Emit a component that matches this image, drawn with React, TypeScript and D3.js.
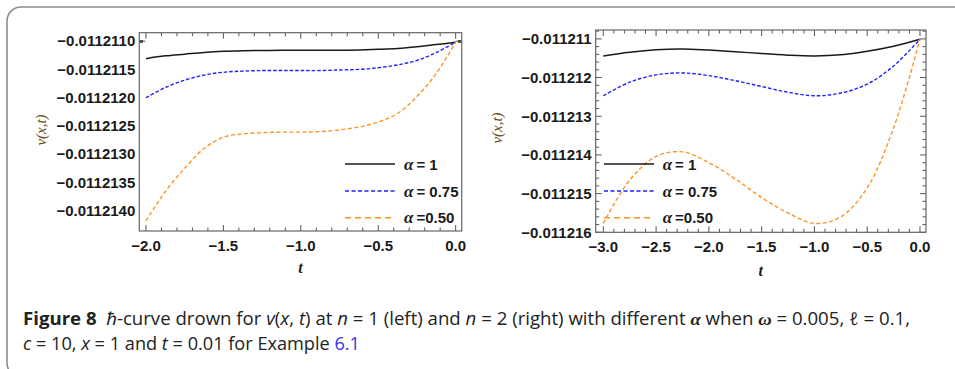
import React from "react";
import * as d3 from "d3";

// n = 1 panel: sample times and curve values
const tLeft = [-2, -1.875, -1.75, -1.625, -1.5, -1.375, -1.25, -1.125, -1, -0.875, -0.75, -0.625, -0.5, -0.375, -0.25, -0.125, 0];
const leftAlpha1 = [-0.01121131, -0.01121126, -0.01121123, -0.0112112, -0.01121118, -0.01121117, -0.011211165, -0.01121116, -0.01121116, -0.01121116, -0.01121116, -0.011211155, -0.011211145, -0.01121113, -0.0112111, -0.01121106, -0.01121102];
const leftAlpha075 = [-0.011212, -0.01121182, -0.01121169, -0.0112116, -0.01121155, -0.01121153, -0.01121152, -0.01121152, -0.01121152, -0.01121152, -0.01121151, -0.0112115, -0.01121147, -0.01121142, -0.01121134, -0.0112112, -0.01121102];
const leftAlpha050 = [-0.01121418, -0.01121366, -0.01121325, -0.0112129, -0.0112127, -0.01121264, -0.01121262, -0.01121261, -0.01121261, -0.0112126, -0.01121257, -0.01121252, -0.01121243, -0.01121228, -0.01121198, -0.01121157, -0.01121102];

// n = 2 panel
const tRight = [-3, -2.75, -2.5, -2.25, -2, -1.75, -1.5, -1.25, -1, -0.75, -0.5, -0.25, 0];
const rightAlpha1 = [-0.01121144, -0.011211345, -0.01121128, -0.01121126, -0.01121129, -0.01121133, -0.01121138, -0.01121142, -0.01121144, -0.01121141, -0.01121132, -0.01121119, -0.01121101];
const rightAlpha075 = [-0.01121247, -0.01121212, -0.01121193, -0.01121188, -0.01121195, -0.01121208, -0.01121223, -0.01121238, -0.01121247, -0.0112124, -0.01121217, -0.0112117, -0.01121101];
const rightAlpha050 = [-0.01121577, -0.01121465, -0.01121404, -0.01121392, -0.0112142, -0.01121462, -0.0112151, -0.0112155, -0.01121577, -0.0112156, -0.01121485, -0.0112133, -0.01121101];

// axis ticks
const xTicksLeft = [-2, -1.5, -1, -0.5, 0];
const yTicksLeft = [-0.011211, -0.0112115, -0.011212, -0.0112125, -0.011213, -0.0112135, -0.011214];
const xTicksRight = [-3, -2.5, -2, -1.5, -1, -0.5, 0];
const yTicksRight = [-0.011211, -0.011212, -0.011213, -0.011214, -0.011215, -0.011216];

const legendLabels = ["= 1", "= 0.75", "=0.50"];

const SERIES_STYLE = [
  { color: "#1a1a1a", dash: null, width: 1.5, legendDash: null },
  { color: "#1f1fff", dash: "3.5,2", width: 1.4, legendDash: "4,2.5" },
  { color: "#ff9326", dash: "4,2.5", width: 1.4, legendDash: "6,4" },
];

const TICK_FONT = "'Liberation Sans', Arial, sans-serif";
const SERIF = "'Liberation Serif', 'DejaVu Serif', serif";

type PanelProps = {
  frame: { x0: number; x1: number; y0: number; y1: number };
  xDomain: [number, number];
  yDomain: [number, number];
  ts: number[];
  series: number[][];
  xTicks: number[];
  yTicks: number[];
  yFormat: (v: number) => string;
  xMinorStep: number;
  yMinorStep: number;
  yTitle: { x: number; y: number };
  tTitleY: number;
  legend: { x0: number; x1: number; ys: number[]; textX: number };
};

function Panel(p: PanelProps) {
  const { frame } = p;
  const x = d3.scaleLinear().domain(p.xDomain).range([frame.x0, frame.x1]);
  const y = d3.scaleLinear().domain(p.yDomain).range([frame.y1, frame.y0]);
  const line = d3
    .line<[number, number]>()
    .x((d) => x(d[0]))
    .y((d) => y(d[1]))
    .curve(d3.curveCatmullRom.alpha(0.5));

  const xMinor: number[] = [];
  for (let k = Math.ceil(p.xDomain[0] / p.xMinorStep - 1e-9); k <= Math.floor(p.xDomain[1] / p.xMinorStep + 1e-9); k++) {
    xMinor.push(k * p.xMinorStep);
  }
  const yMinor: number[] = [];
  const base = p.yTicks[0];
  for (let k = -5; k < 200; k++) {
    const v = base - k * p.yMinorStep;
    if (v <= p.yDomain[1] && v >= p.yDomain[0]) yMinor.push(v);
  }
  const isMajorX = (v: number) => p.xTicks.some((t) => Math.abs(t - v) < 1e-9);
  const isMajorY = (v: number) => p.yTicks.some((t) => Math.abs(t - v) < p.yMinorStep * 0.01);

  const tickColor = "#555";
  const ticks: JSX.Element[] = [];
  xMinor.forEach((v, i) => {
    const len = isMajorX(v) ? 6 : 3.5;
    const px = x(v);
    ticks.push(<line key={`xb${i}`} x1={px} x2={px} y1={frame.y1} y2={frame.y1 - len} stroke={tickColor} strokeWidth={1} />);
    ticks.push(<line key={`xt${i}`} x1={px} x2={px} y1={frame.y0} y2={frame.y0 + len} stroke={tickColor} strokeWidth={1} />);
  });
  yMinor.forEach((v, i) => {
    const len = isMajorY(v) ? 6 : 3.5;
    const py = y(v);
    ticks.push(<line key={`yl${i}`} x1={frame.x0} x2={frame.x0 + len} y1={py} y2={py} stroke={tickColor} strokeWidth={1} />);
    ticks.push(<line key={`yr${i}`} x1={frame.x1} x2={frame.x1 - len} y1={py} y2={py} stroke={tickColor} strokeWidth={1} />);
  });

  return (
    <g>
      <defs>
        <clipPath id={`clip${frame.x0}`}>
          <rect x={frame.x0} y={frame.y0} width={frame.x1 - frame.x0} height={frame.y1 - frame.y0} />
        </clipPath>
      </defs>
      <g clipPath={`url(#clip${frame.x0})`}>
        {p.series.map((vals, si) => (
          <path
            key={si}
            d={line(p.ts.map((t, i) => [t, vals[i]] as [number, number])) || ""}
            fill="none"
            stroke={SERIES_STYLE[si].color}
            strokeWidth={SERIES_STYLE[si].width}
            strokeDasharray={SERIES_STYLE[si].dash || undefined}
          />
        ))}
      </g>
      {ticks}
      <rect x={frame.x0} y={frame.y0} width={frame.x1 - frame.x0} height={frame.y1 - frame.y0} fill="none" stroke="#666" strokeWidth={1.2} />
      {p.xTicks.map((v) => (
        <text key={`xl${v}`} x={x(v)} y={frame.y1 + 19.5} textAnchor="middle" fontFamily={TICK_FONT} fontWeight="bold" fontSize={15} fill="#1a1a1a">
          {d3.format(".1f")(v)}
        </text>
      ))}
      {p.yTicks.map((v) => (
        <text key={`yl${v}`} x={frame.x0 - 4} y={y(v) + 5.3} textAnchor="end" fontFamily={TICK_FONT} fontWeight="bold" fontSize={15} fill="#1a1a1a">
          {p.yFormat(v)}
        </text>
      ))}
      <text x={(frame.x0 + frame.x1) / 2 - 0} y={p.tTitleY} textAnchor="middle" fontFamily={SERIF} fontStyle="italic" fontWeight="bold" fontSize={16} fill="#1a1a1a">
        t
      </text>
      <text
        transform={`translate(${p.yTitle.x},${p.yTitle.y}) rotate(-90)`}
        textAnchor="middle"
        fontFamily={SERIF}
        fontStyle="italic"
        fontSize={15}
        fill="#6b4a1c"
      >
        v(x,t)
      </text>
      {p.legend.ys.map((ly, i) => (
        <g key={`lg${i}`}>
          <line
            x1={p.legend.x0}
            x2={p.legend.x1}
            y1={ly}
            y2={ly}
            stroke={SERIES_STYLE[i].color}
            strokeWidth={SERIES_STYLE[i].width}
            strokeDasharray={SERIES_STYLE[i].legendDash || undefined}
          />
          <text x={p.legend.textX} y={ly + 5.5} fontFamily={TICK_FONT} fontWeight="bold" fontSize={15} fill="#1a1a1a">
            <tspan fontFamily={SERIF} fontStyle="italic" fontSize={17}>α</tspan>
            <tspan dx={3}>{legendLabels[i]}</tspan>
          </text>
        </g>
      ))}
    </g>
  );
}

export default function App() {
  const fmtLeft = d3.format(".7f");
  const fmtRight = d3.format(".6f");
  const capFont = "'Open Sans', 'Noto Sans', sans-serif";
  return (
    <svg
      width={955}
      height={369}
      viewBox="0 0 955 369"
      style={{ position: "absolute", left: 0, top: 0, background: "#fff" }}
    >
      <rect x={7} y={7} width={970} height={370} rx={14} ry={14} fill="#fff" stroke="#8c8c8c" strokeWidth={1.6} />
      <Panel
        frame={{ x0: 139.3, x1: 461.7, y0: 32.7, y1: 231 }}
        xDomain={[-2.043, 0.039]}
        yDomain={[-0.01121436, -0.01121085]}
        ts={tLeft}
        series={[leftAlpha1, leftAlpha075, leftAlpha050]}
        xTicks={xTicksLeft}
        yTicks={yTicksLeft}
        yFormat={fmtLeft}
        xMinorStep={0.1}
        yMinorStep={1e-10}
        yTitle={{ x: 46, y: 130 }}
        tTitleY={273}
        legend={{ x0: 345, x1: 395, ys: [164, 191, 217.7], textX: 404 }}
      />
      <Panel
        frame={{ x0: 595.7, x1: 926, y0: 30, y1: 232.3 }}
        xDomain={[-3.072, 0.057]}
        yDomain={[-0.011216, -0.01121077]}
        ts={tRight}
        series={[rightAlpha1, rightAlpha075, rightAlpha050]}
        xTicks={xTicksRight}
        yTicks={yTicksRight}
        yFormat={fmtRight}
        xMinorStep={0.1}
        yMinorStep={2e-7}
        yTitle={{ x: 502, y: 128 }}
        tTitleY={276}
        legend={{ x0: 604, x1: 654, ys: [164, 191, 217.7], textX: 662.7 }}
      />
      <text x={23} y={325} fontFamily={capFont} fontSize={17.5} fill="#222" textLength={887} lengthAdjust="spacingAndGlyphs">
        <tspan fontWeight="bold">Figure 8</tspan>
        <tspan dx={9} fontStyle="italic">ℏ</tspan>
        <tspan>-curve drown for </tspan>
        <tspan fontStyle="italic">v</tspan>
        <tspan>(</tspan>
        <tspan fontStyle="italic">x</tspan>
        <tspan>, </tspan>
        <tspan fontStyle="italic">t</tspan>
        <tspan>) at </tspan>
        <tspan fontStyle="italic">n</tspan>
        <tspan> = 1 (left) and </tspan>
        <tspan fontStyle="italic">n</tspan>
        <tspan> = 2 (right) with different </tspan>
        <tspan fontFamily={SERIF} fontStyle="italic" fontWeight="bold">α</tspan>
        <tspan> when </tspan>
        <tspan fontFamily={SERIF} fontStyle="italic" fontWeight="bold">ω</tspan>
        <tspan> = 0.005, </tspan>
        <tspan fontStyle="italic">ℓ</tspan>
        <tspan> = 0.1,</tspan>
      </text>
      <text x={23} y={350} fontFamily={capFont} fontSize={17.5} fill="#222" textLength={337} lengthAdjust="spacingAndGlyphs">
        <tspan fontStyle="italic">c</tspan>
        <tspan> = 10, </tspan>
        <tspan fontStyle="italic">x</tspan>
        <tspan> = 1 and </tspan>
        <tspan fontStyle="italic">t</tspan>
        <tspan> = 0.01 for Example </tspan>
        <tspan fill="#3333ee">6.1</tspan>
      </text>
    </svg>
  );
}
